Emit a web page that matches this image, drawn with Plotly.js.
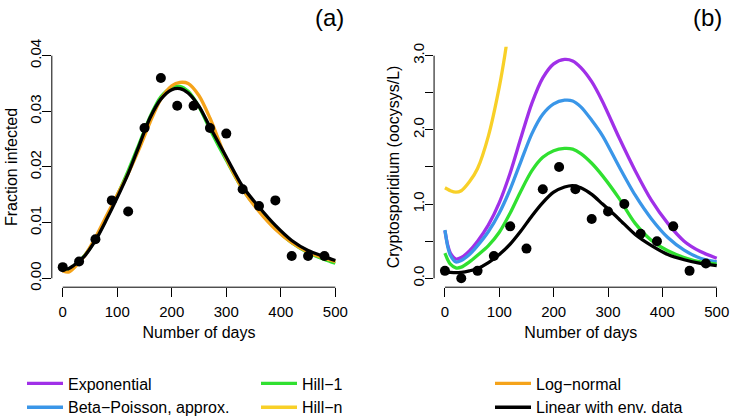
<!DOCTYPE html>
<html><head><meta charset="utf-8">
<script src="https://cdn.plot.ly/plotly-3.0.1.min.js"></script>
<style>html,body{margin:0;padding:0;background:#fff}</style>
</head><body><div id="chart" style="width:732px;height:417px"></div>
<script>
// ---------- data ----------
const daysObs = [0,30,60,90,120,150,180,210,240,270,300,330,360,390,420,450,480];
const fractionInfected = [0.002,0.003,0.007,0.014,0.012,0.027,0.036,0.031,0.031,0.027,0.026,0.016,0.013,0.014,0.004,0.004,0.004];
const cryptoObs = [0.1,0.0,0.1,0.3,0.7,0.4,1.2,1.5,1.2,0.8,0.9,1.0,0.6,0.5,0.7,0.1,0.2];

// panel (a) fitted curves
const daysFitA = [0,10,20,40,60,80,100,120,140,160,180,200,215,230,250,270,300,330,360,390,420,450,480,500];
const hill1A     = [0.0019,0.0016,0.0022,0.0041,0.0070,0.0108,0.0149,0.0193,0.0241,0.0290,0.0326,0.0343,0.0345,0.0336,0.0308,0.0268,0.0212,0.0160,0.0122,0.0090,0.0064,0.0046,0.0034,0.0027];
const logNormalA = [0.0013,0.0011,0.0018,0.0040,0.0073,0.0112,0.0150,0.0188,0.0232,0.0280,0.0322,0.0346,0.0352,0.0350,0.0328,0.0288,0.0215,0.0160,0.0120,0.0088,0.0064,0.0047,0.0036,0.0030];
const linearEnvA = [0.0018,0.0017,0.0023,0.0040,0.0068,0.0105,0.0145,0.0188,0.0238,0.0288,0.0322,0.0339,0.0341,0.0333,0.0309,0.0272,0.0218,0.0165,0.0128,0.0095,0.0068,0.0050,0.0039,0.0032];

// panel (b) back-calculated concentrations
const daysFitB = [0,5,10,20,30,45,60,80,100,120,140,160,180,200,220,235,250,270,290,320,350,380,410,440,470,500];
const exponentialB = [0.64,0.45,0.34,0.26,0.28,0.37,0.50,0.72,1.02,1.42,1.90,2.36,2.70,2.89,2.95,2.93,2.84,2.65,2.38,1.90,1.45,1.05,0.74,0.50,0.36,0.27];
const betaPoissonB = [0.65,0.43,0.31,0.22,0.24,0.32,0.44,0.63,0.88,1.20,1.58,1.95,2.21,2.35,2.40,2.39,2.31,2.13,1.92,1.51,1.12,0.80,0.55,0.38,0.27,0.22];
const hill1B       = [0.34,0.25,0.19,0.14,0.15,0.22,0.31,0.44,0.62,0.88,1.18,1.45,1.63,1.72,1.75,1.74,1.68,1.55,1.38,1.08,0.74,0.51,0.37,0.28,0.22,0.19];
const linearEnvB   = [0.09,0.085,0.08,0.075,0.08,0.10,0.13,0.21,0.32,0.46,0.64,0.84,1.02,1.16,1.23,1.25,1.22,1.13,1.00,0.80,0.59,0.44,0.32,0.25,0.20,0.17];
const daysHillnB = [0,5,10,20,30,45,60,80,100,110,120];
const hillnB     = [1.22,1.20,1.18,1.16,1.18,1.30,1.48,1.92,2.58,3.00,3.50];

const xTicks = [0,100,200,300,400,500];
const yTicksA = [0,0.01,0.02,0.03,0.04];
const yTickTextA = ['0.00','0.01','0.02','0.03','0.04'];
const yTicksB = [0,0.5,1,1.5,2,2.5,3];
const yTickTextB = ['0.0','','1.0','','2.0','','3.0'];

const names = {
  exp: 'Exponential', bp: 'Beta\u2212Poisson, approx.', h1: 'Hill\u22121',
  hn: 'Hill\u2212n', ln: 'Log\u2212normal', lin: 'Linear with env. data'
};
const colors = {exp:'#A030E8', bp:'#3A96E8', h1:'#30E030', hn:'#F8D028', ln:'#F5A31A', lin:'#000000'};

// ---------- layout geometry ----------
const FONT = 'Liberation Sans, Arial, Helvetica, sans-serif';
const domXA = [0.0708, 0.4730], domXB = [0.5930, 0.9940], domY = [0.3113, 0.8878];
const rangeX = [-20, 520], rangeYA = [-0.0016, 0.0416], rangeYB = [-0.12, 3.12];
const LW = 3.3;

function line(x, y, key, xa, ya, legendId, show) {
  return {x: x, y: y, type: 'scatter', mode: 'lines', name: names[key],
    line: {color: colors[key], width: LW, shape: 'spline', smoothing: 0.8},
    xaxis: xa, yaxis: ya, legend: legendId, showlegend: show, hoverinfo: 'skip'};
}

const traces = [
  // panel (a)
  line(daysFitA, hill1A, 'h1', 'x', 'y', 'legend2', false),
  line(daysFitA, logNormalA, 'ln', 'x', 'y', 'legend3', true),
  line(daysFitA, linearEnvA, 'lin', 'x', 'y', 'legend3', true),
  {x: daysObs, y: fractionInfected, type: 'scatter', mode: 'markers', xaxis: 'x', yaxis: 'y',
   marker: {color: '#000', size: 10}, showlegend: false, hoverinfo: 'skip'},
  // panel (b)
  line(daysFitB, exponentialB, 'exp', 'x2', 'y2', 'legend', true),
  line(daysFitB, betaPoissonB, 'bp', 'x2', 'y2', 'legend', true),
  line(daysFitB, hill1B, 'h1', 'x2', 'y2', 'legend2', true),
  line(daysHillnB, hillnB, 'hn', 'x2', 'y2', 'legend2', true),
  line(daysFitB, linearEnvB, 'lin', 'x2', 'y2', 'legend3', false),
  {x: daysObs, y: cryptoObs, type: 'scatter', mode: 'markers', xaxis: 'x2', yaxis: 'y2',
   marker: {color: '#000', size: 10}, showlegend: false, hoverinfo: 'skip'}
];

function xAxis(dom, anchor) {
  return {domain: dom, anchor: anchor, range: rangeX, tickvals: xTicks, ticktext: xTicks.map(String),
    ticks: 'outside', ticklen: 8.5, tickwidth: 1, tickcolor: '#000', ticklabelstandoff: 2,
    showline: false, showgrid: false, zeroline: false, fixedrange: true,
    tickfont: {family: FONT, size: 15, color: '#000'},
    title: {text: 'Number of days', font: {family: FONT, size: 16, color: '#000'}, standoff: 8}};
}
function yAxis(dom, anchor, range, tv, tt, title) {
  return {domain: dom, anchor: anchor, range: range, tickvals: tv, ticktext: tt, tickangle: -90,
    ticks: 'outside', ticklen: 8.5, tickwidth: 1, tickcolor: '#000', ticklabelstandoff: -5,
    showline: false, showgrid: false, zeroline: false, fixedrange: true,
    tickfont: {family: FONT, size: 15, color: '#000'},
    title: {text: title, font: {family: FONT, size: 16, color: '#000'}, standoff: 5}};
}

// R-style axis lines spanning only the tick range
function px(v, dom, r) { return dom[0] + (v - r[0]) / (r[1] - r[0]) * (dom[1] - dom[0]); }
function axisShapes(domX, rY, yTop) {
  const lineStyle = {color: '#000', width: 1};
  return [
    {type: 'line', xref: 'paper', yref: 'paper', x0: px(xTicks[0], domX, rangeX), x1: px(xTicks[xTicks.length-1], domX, rangeX),
     y0: domY[0], y1: domY[0], line: lineStyle},
    {type: 'line', xref: 'paper', yref: 'paper', x0: domX[0], x1: domX[0],
     y0: px(0, domY, rY), y1: px(yTop, domY, rY), line: lineStyle}
  ];
}

const legendBase = {orientation: 'v', xanchor: 'left', yanchor: 'top', y: 0.121,
  bgcolor: 'rgba(0,0,0,0)', borderwidth: 0, itemwidth: 36, tracegroupgap: 0,
  font: {family: FONT, size: 16, color: '#000'}, itemclick: false, itemdoubleclick: false};

const layout = {
  width: 732, height: 417, margin: {l: 0, r: 0, t: 0, b: 0, autoexpand: false},
  paper_bgcolor: '#fff', plot_bgcolor: '#fff',
  font: {family: FONT, color: '#000'},
  xaxis: xAxis(domXA, 'y'),
  yaxis: yAxis(domY, 'x', rangeYA, yTicksA, yTickTextA, 'Fraction infected'),
  xaxis2: xAxis(domXB, 'y2'),
  yaxis2: yAxis(domY, 'x2', rangeYB, yTicksB, yTickTextB, 'Cryptosporidium (oocysys/L)'),
  shapes: axisShapes(domXA, rangeYA, 0.04).concat(axisShapes(domXB, rangeYB, 3)),
  legend: Object.assign({}, legendBase, {x: 22/732}),
  legend2: Object.assign({}, legendBase, {x: 256/732}),
  legend3: Object.assign({}, legendBase, {x: 490/732}),
  annotations: [
    {text: '(a)', xref: 'paper', yref: 'paper', x: 346/732, y: (417-17.5)/417, xanchor: 'right', yanchor: 'middle',
     showarrow: false, font: {family: FONT, size: 24, color: '#000'}},
    {text: '(b)', xref: 'paper', yref: 'paper', x: 724/732, y: (417-17.5)/417, xanchor: 'right', yanchor: 'middle',
     showarrow: false, font: {family: FONT, size: 24, color: '#000'}}
  ],
  showlegend: true
};

Plotly.newPlot('chart', traces, layout, {displayModeBar: false, staticPlot: true});
</script></body></html>
